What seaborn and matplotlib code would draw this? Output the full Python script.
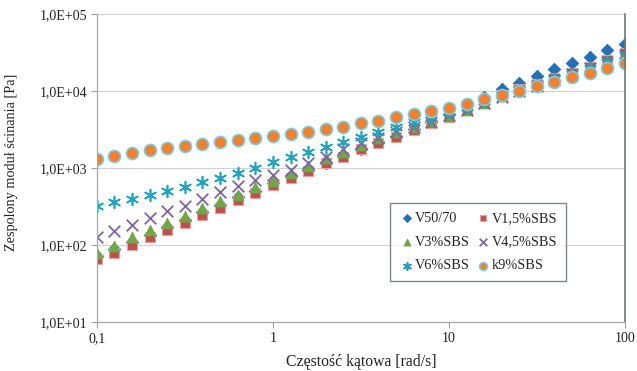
import matplotlib
matplotlib.use("Agg")
import matplotlib.pyplot as plt
import seaborn as sns
import pandas as pd

# ---- data ----
freq = [0.1, 0.126, 0.158, 0.2, 0.251, 0.316, 0.398, 0.501, 0.631, 0.794,
        1, 1.26, 1.58, 2, 2.51, 3.16, 3.98, 5.01, 6.31, 7.94,
        10, 12.6, 15.8, 20, 25.1, 31.6, 39.8, 50.1, 63.1, 79.4, 100]

v50_70 = [72, 88, 110, 137, 172, 212, 268, 330, 415, 510,
          640, 780, 950, 1170, 1430, 1760, 2150, 2620, 3200, 4000,
          5000, 6500, 8300, 10500, 12900, 15700, 19200, 23300, 28000, 34000, 40500]
v1_5 = [66, 80, 101, 126, 158, 193, 248, 303, 388, 474,
        598, 743, 904, 1161, 1413, 1762, 2106, 2564, 3126, 3819,
        4654, 5800, 7200, 8900, 10500, 12300, 14600, 17400, 20800, 25500, 31000]
v3 = [80, 98, 126, 155, 193, 240, 303, 368, 450, 567,
      680, 861, 1071, 1346, 1640, 2000, 2443, 2974, 3452, 4100,
      4800, 5700, 7000, 8600, 10200, 12000, 14200, 17000, 20300, 24800, 30000]
v4_5 = [129, 150, 184, 224, 273, 324, 396, 482, 577, 705,
        820, 951, 1161, 1413, 1762, 2106, 2443, 2974, 3452, 4008,
        4850, 5700, 6900, 8500, 10000, 11800, 14000, 16600, 19800, 24000, 29000]
v6 = [317, 357, 396, 446, 507, 567, 664, 741, 861, 989,
      1190, 1413, 1640, 1870, 2208, 2564, 2974, 3452, 4008, 4654,
      5400, 6200, 7400, 8800, 10300, 12000, 14200, 16800, 20000, 24200, 29500]
k9 = [1300, 1450, 1590, 1710, 1820, 1950, 2060, 2200, 2330, 2450,
      2620, 2780, 2970, 3200, 3450, 3800, 4130, 4570, 5000, 5550,
      6100, 6800, 7850, 8850, 10000, 11600, 13200, 15300, 17200, 20000, 23000]

series_names = ["V50/70", "V1,5%SBS", "V3%SBS", "V4,5%SBS", "V6%SBS", "k9%SBS"]
series_values = [v50_70, v1_5, v3, v4_5, v6, k9]

y_ticks = [1e1, 1e2, 1e3, 1e4, 1e5]
y_tick_labels = ["1,0E+01", "1,0E+02", "1,0E+03", "1,0E+04", "1,0E+05"]
x_ticks = [0.1, 1, 10, 100]
x_tick_labels = ["0,1", "1", "10", "100"]

df = pd.concat([pd.DataFrame({"freq": freq, "G": v, "series": n})
                for n, v in zip(series_names, series_values)], ignore_index=True)

# ---- style ----
sns.set_style("white")
plt.rcParams["font.family"] = ["Liberation Serif", "DejaVu Serif"]

styles = {
    "V50/70":   dict(marker="D", color="#2270B5", edgecolor="#2270B5", s=42, linewidth=0.5),
    "V1,5%SBS": dict(marker="s", color="#C0504D", edgecolor="#E8A0A0", s=58, linewidth=0.8),
    "V3%SBS":   dict(marker="^", color="#6FA845", edgecolor="#6FA845", s=62, linewidth=0.5),
    "V4,5%SBS": dict(marker="x", color="#8064A2", edgecolor=None, s=70, linewidth=1.3),
    "V6%SBS":   dict(marker=(6, 2, 0), color="#1FA3C0", edgecolor=None, s=72, linewidth=1.2),
    "k9%SBS":   dict(marker="o", color="#F47F2C", edgecolor="#7CCBE0", s=75, linewidth=1.2),
}

fig = plt.figure(figsize=(6.37, 3.71), dpi=100)
ax = fig.add_axes([0.152, 0.132, 0.829, 0.830])

for name in series_names:
    st = styles[name]
    sub = df[df["series"] == name]
    kw = dict(marker=st["marker"], color=st["color"], s=st["s"], linewidth=st["linewidth"], label=name)
    if st["edgecolor"] is not None:
        kw["edgecolor"] = st["edgecolor"]
    sns.scatterplot(data=sub, x="freq", y="G", ax=ax, legend=False, **kw)

ax.set_xscale("log")
ax.set_yscale("log")
ax.set_xlim(0.1, 100)
ax.set_ylim(10, 1e5)

ax.set_xticks(x_ticks)
ax.set_xticklabels(x_tick_labels)
ax.set_yticks(y_ticks)
ax.set_yticklabels(y_tick_labels)
ax.minorticks_off()
ax.tick_params(axis="both", which="major", direction="out", length=4, width=0.8,
               color="#A0A0A0", labelsize=10, labelcolor="#222222", pad=3, left=True, bottom=True)

ax.yaxis.grid(True, color="#D0D0D0", linewidth=0.8)
ax.xaxis.grid(False)
ax.set_axisbelow(True)

for side in ["left", "bottom"]:
    ax.spines[side].set_color("#A8A8A8")
    ax.spines[side].set_linewidth(0.9)
ax.spines["right"].set_color("#707878")
ax.spines["right"].set_linewidth(1.2)
ax.spines["top"].set_visible(False)

ax.set_xlabel("Częstość kątowa [rad/s]", fontsize=11.3, color="#222222")
ax.set_ylabel("Zespolony moduł ścinania [Pa]", fontsize=10.3, color="#222222")
ax.xaxis.set_label_coords(0.5, -0.105)
ax.yaxis.set_label_coords(-0.150, 0.52)

handles, labels = ax.get_legend_handles_labels()
col_order = [0, 2, 4, 1, 3, 5]
leg = ax.legend([handles[i] for i in col_order], [labels[i] for i in col_order],
                ncol=2, loc="lower left", bbox_to_anchor=(0.542, 0.11, 0.36, 0.267),
                mode="expand", frameon=True, fancybox=False, fontsize=10.3,
                markerscale=0.65, handletextpad=0.05, handlelength=1.1,
                columnspacing=1.2, borderpad=0.6, labelspacing=0.75)
leg.get_frame().set_edgecolor("#606868")
leg.get_frame().set_linewidth(1.0)

fig.savefig("out.png", dpi=100)
